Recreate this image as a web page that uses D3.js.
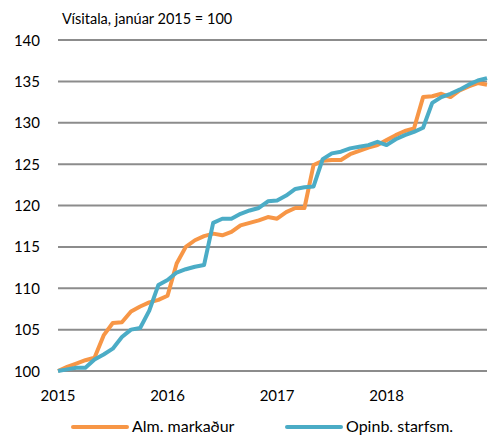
<!DOCTYPE html>
<html>
<head>
<meta charset="utf-8">
<script src="https://cdn.jsdelivr.net/npm/d3@7"></script>
<style>
  body { margin: 0; background: #fff; }
  svg text { font-family: Lato, "Open Sans", sans-serif; fill: #000; }
</style>
</head>
<body>
<script>
// chart size
var w = 494;
var h = 437;

// month index 0 = jan 2015, 47 = des 2018
var yearLabels = ["2015", "2016", "2017", "2018"];
var yTicks = [100, 105, 110, 115, 120, 125, 130, 135, 140];
var seriesNames = ["Alm. markaður", "Opinb. starfsm."];

// Almennur markaður
var alm = [
  100.0, 100.5, 100.9, 101.3, 101.6, 104.3, 105.8, 105.9, 107.2, 107.8, 108.3, 108.6,
  109.1, 113.0, 115.0, 115.8, 116.3, 116.6, 116.4, 116.8, 117.6, 117.9, 118.2, 118.6,
  118.4, 119.2, 119.7, 119.7, 124.9, 125.4, 125.5, 125.5, 126.2, 126.6, 127.0, 127.3,
  127.9, 128.5, 129.0, 129.3, 133.1, 133.2, 133.5, 133.1, 133.9, 134.4, 134.8, 134.6
];

// Opinberir starfsmenn
var opinb = [
  100.0, 100.2, 100.4, 100.4, 101.4, 102.0, 102.7, 104.1, 105.0, 105.2, 107.3, 110.4,
  111.0, 111.9, 112.3, 112.6, 112.8, 117.9, 118.4, 118.4, 119.0, 119.4, 119.7, 120.5,
  120.6, 121.2, 122.0, 122.2, 122.3, 125.6, 126.3, 126.5, 126.9, 127.1, 127.3, 127.7,
  127.3, 128.0, 128.5, 128.9, 129.4, 132.4, 133.1, 133.5, 134.0, 134.6, 135.1, 135.4
];

var colors = ["#F79646", "#4BACC6"];

var svg = d3.select("body")
            .append("svg")
            .attr("width", w)
            .attr("height", h);

// scales
var x = d3.scaleLinear()
          .domain([0, 47])
          .range([58, 487]);

var y = d3.scaleLinear()
          .domain([100, 140])
          .range([371, 40]);

// gridlines
svg.selectAll("line.grid")
   .data(yTicks)
   .enter()
   .append("line")
   .attr("class", "grid")
   .attr("x1", x(0))
   .attr("x2", x(47))
   .attr("y1", function(d) { return y(d); })
   .attr("y2", function(d) { return y(d); })
   .attr("stroke", "#8c8c8c")
   .attr("stroke-width", 2);

// y tick labels
svg.selectAll("text.ytick")
   .data(yTicks)
   .enter()
   .append("text")
   .attr("class", "ytick")
   .attr("x", 40)
   .attr("y", function(d) { return y(d) + 5.5; })
   .attr("text-anchor", "end")
   .style("font-size", "15px")
   .text(function(d) { return d; });

// x tick labels (one per year, at january)
svg.selectAll("text.xtick")
   .data(yearLabels)
   .enter()
   .append("text")
   .attr("class", "xtick")
   .attr("x", function(d, i) { return x(i * 12); })
   .attr("y", 401)
   .attr("text-anchor", "middle")
   .style("font-size", "15px")
   .text(function(d) { return d; });

// title
svg.append("text")
   .attr("x", 62)
   .attr("y", 24)
   .style("font-size", "14.5px")
   .text("Vísitala, janúar 2015 = 100");

// lines
var line = d3.line()
             .x(function(d, i) { return x(i); })
             .y(function(d) { return y(d); });

[alm, opinb].forEach(function(s, k) {
  svg.append("path")
     .datum(s)
     .attr("d", line)
     .attr("fill", "none")
     .attr("stroke", colors[k])
     .attr("stroke-width", 4)
     .attr("stroke-linejoin", "round");
});

// legend
var legendX = [73, 287];
seriesNames.forEach(function(name, k) {
  svg.append("line")
     .attr("x1", legendX[k])
     .attr("x2", legendX[k] + 54)
     .attr("y1", 427)
     .attr("y2", 427)
     .attr("stroke", colors[k])
     .attr("stroke-width", 4)
     .attr("stroke-linecap", "round");
  svg.append("text")
     .attr("x", legendX[k] + 59)
     .attr("y", 432)
     .style("font-size", "16px")
     .text(name);
});
</script>
</body>
</html>
